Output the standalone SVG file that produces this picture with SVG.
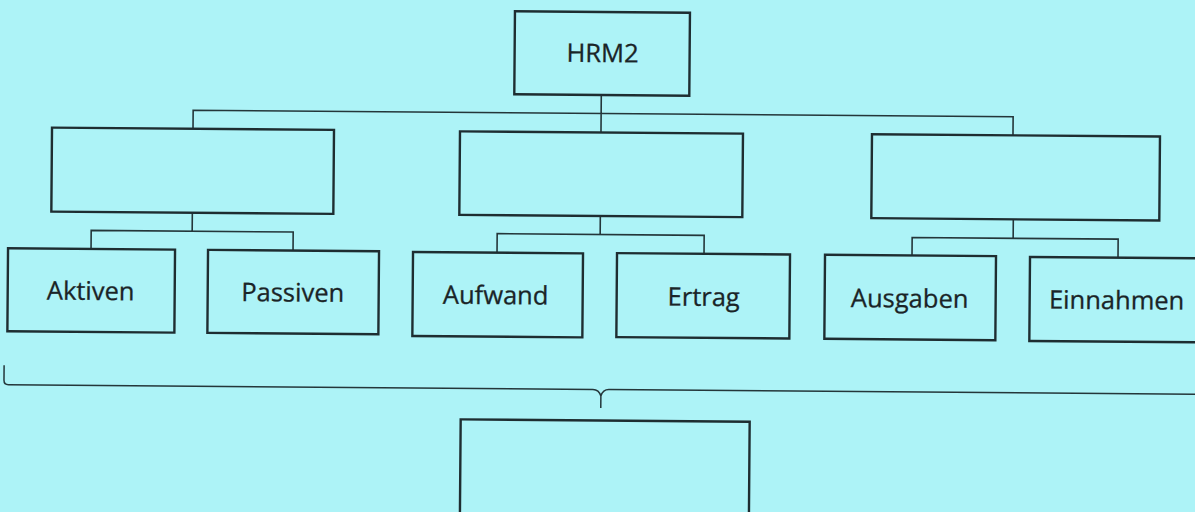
<svg xmlns="http://www.w3.org/2000/svg" width="1195" height="512" viewBox="0 0 1195 512">
  <style>
    .box { fill: none; stroke: #1e2d31; stroke-width: 2.4; }
    .conn { fill: none; stroke: #24363a; stroke-width: 1.6; }
    .brace { fill: none; stroke: #24363a; stroke-width: 1.5; stroke-linejoin: round; }
    .lbl { font-family: "Open Sans", "Noto Sans", sans-serif; font-size: 25.5px; fill: #1a2427; stroke: #1a2427; stroke-width: 0.3; text-anchor: middle; }
  </style>
  <rect x="0" y="0" width="1195" height="512" fill="#adf3f7"/>
  <g transform="rotate(0.46 600 256)">
    <g id="connectors">
      <path class="conn" d="M600 94.5 V132 M192 132 V113.5 H1012 V132"/>
      <path class="conn" d="M192 216 V234.5 M91 253 V234.5 H293 V253"/>
      <path class="conn" d="M600 216 V234.5 M497 253 V234.5 H704 V253"/>
      <path class="conn" d="M1013 216 V235 M912 253 V235 H1118 V253"/>
      <path class="brace" d="M5 370 V385 Q5 389.5 9.5 389.5 H594 Q600 389.5 602 396 Q604 389.5 610 389.5 H1195 Q1199 389.5 1199 385 V370 M602 396 V408"/>
    </g>
    <g id="hrm2">
      <rect class="box" x="513" y="12" width="175" height="83"/>
      <text class="lbl" x="601" y="62">HRM2</text>
    </g>
    <g id="box-left">
      <rect class="box" x="51" y="132" width="282" height="84"/>
    </g>
    <g id="box-middle">
      <rect class="box" x="459" y="132.5" width="283" height="83.5"/>
    </g>
    <g id="box-right">
      <rect class="box" x="871" y="132" width="288" height="84"/>
    </g>
    <g id="aktiven">
      <rect class="box" x="8" y="253" width="167" height="83"/>
      <text class="lbl" x="91" y="304">Aktiven</text>
    </g>
    <g id="passiven">
      <rect class="box" x="208" y="253" width="171" height="83"/>
      <text class="lbl" x="293" y="304">Passiven</text>
    </g>
    <g id="aufwand">
      <rect class="box" x="413" y="253.5" width="170" height="84"/>
      <text class="lbl" x="496" y="305">Aufwand</text>
    </g>
    <g id="ertrag">
      <rect class="box" x="617" y="253" width="173" height="84"/>
      <text class="lbl" x="704" y="305">Ertrag</text>
    </g>
    <g id="ausgaben">
      <rect class="box" x="825" y="253" width="171" height="84"/>
      <text class="lbl" x="910" y="305">Ausgaben</text>
    </g>
    <g id="einnahmen">
      <rect class="box" x="1030" y="253.5" width="174" height="84"/>
      <text class="lbl" x="1117" y="305">Einnahmen</text>
    </g>
    <g id="box-bottom">
      <rect class="box" x="462" y="420.5" width="289" height="120"/>
    </g>
  </g>
</svg>
